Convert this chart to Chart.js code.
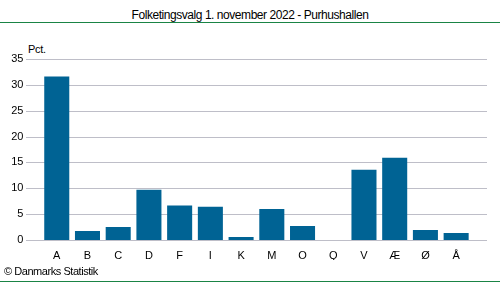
<!DOCTYPE html>
<html><head><meta charset="utf-8">
<script src="https://cdn.jsdelivr.net/npm/chart.js@4"></script>
<style>
html,body{margin:0;padding:0;background:#fff;}
#wrap{position:relative;width:500px;height:282px;overflow:hidden;font-family:"Liberation Sans",Arial,sans-serif;}
#title{position:absolute;left:0;top:8px;width:500px;text-align:center;font-size:12px;color:#000;letter-spacing:-0.45px;}
#topline{position:absolute;left:0;top:22px;width:500px;height:1px;background:#1A8445;}
#botline{position:absolute;left:0;top:281px;width:500px;height:1px;background:#1A8445;}
#pct{position:absolute;left:28px;top:43px;font-size:11px;color:#000;letter-spacing:-0.3px;}
#copy{position:absolute;left:4px;top:265px;font-size:11px;color:#000;letter-spacing:-0.45px;}
canvas{position:absolute;left:0;top:0;}
</style></head>
<body><div id="wrap">
<div id="title">Folketingsvalg 1. november 2022 - Purhushallen</div>
<div id="topline"></div>
<div id="pct">Pct.</div>
<canvas id="c" width="500" height="282"></canvas>
<div id="copy">© Danmarks Statistik</div>
<div id="botline"></div>
</div>
<script>
const categories = ["A","B","C","D","F","I","K","M","O","Q","V","Æ","Ø","Å"];
const values = [31.6, 1.75, 2.5, 9.7, 6.65, 6.45, 0.6, 6.0, 2.7, 0, 13.6, 15.9, 1.95, 1.35];
const yTicks = [0,5,10,15,20,25,30,35];

const gridPlugin = {
  id: 'extGrid',
  beforeDatasetsDraw(chart) {
    const ctx = chart.ctx, y = chart.scales.y;
    ctx.save();
    ctx.strokeStyle = '#BEBEC8';
    ctx.lineWidth = 1;
    yTicks.forEach(v => {
      const py = Math.round(y.getPixelForValue(v)) + 0.5;
      ctx.beginPath();
      ctx.moveTo(26, py);
      ctx.lineTo(487, py);
      ctx.stroke();
    });
    ctx.restore();
  }
};

new Chart(document.getElementById('c'), {
  type: 'bar',
  data: { labels: categories, datasets: [{ data: values, backgroundColor: '#006394', borderWidth: 0, categoryPercentage: 1, barPercentage: 0.815 }] },
  options: {
    responsive: false, animation: false, devicePixelRatio: 1,
    layout: { padding: { left: 0, top: 59, right: 28.5, bottom: 22 } },
    plugins: { legend: { display: false }, tooltip: { enabled: false } },
    scales: {
      x: {
        grid: { display: false, drawTicks: false },
        border: { display: false },
        ticks: { color: '#000', font: { family: 'Liberation Sans', size: 11 }, padding: 9, maxRotation: 0, autoSkip: false },
        afterFit: s => { s.height = 20; }
      },
      y: {
        min: 0, max: 35,
        afterBuildTicks: s => { s.ticks = yTicks.map(v => ({ value: v })); },
        grid: { display: false, drawTicks: false },
        border: { display: false },
        ticks: { color: '#000', font: { family: 'Liberation Sans', size: 11 }, padding: 18 },
        afterFit: s => { s.width = 41.4; }
      }
    }
  },
  plugins: [gridPlugin]
});
</script>
</body></html>
